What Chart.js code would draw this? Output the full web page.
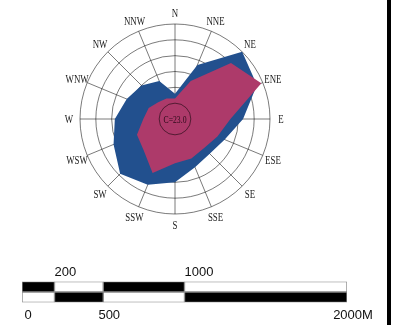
<!DOCTYPE html>
<html>
<head>
<meta charset="utf-8">
<script src="https://cdn.jsdelivr.net/npm/chart.js@4.4.0/dist/chart.umd.min.js"></script>
<style>
  body { margin: 0; background: #fff; width: 395px; height: 325px; overflow: hidden; position: relative; }
  #rose { position: absolute; left: 40px; top: 0; }
  #scaleBar { position: absolute; left: 0; top: 258px; }
  #frame { position: absolute; left: 387px; top: 0; width: 4px; height: 325px; background: #000; }
</style>
</head>
<body>
<canvas id="rose" width="270" height="240"></canvas>
<canvas id="scaleBar" width="395" height="72"></canvas>
<div id="frame"></div>
<script>
// wind rose data (radius in ring units, calm circle = ring 1)
const directions = ['N', 'NNE', 'NE', 'ENE', 'E', 'ESE', 'SE', 'SSE', 'S', 'SSW', 'SW', 'WSW', 'W', 'WNW', 'NW', 'NNW'];
const outerSeries = [1.6, 3.7, 6.0, 5.6, 4.3, 3.4, 3.1, 3.3, 4.0, 4.5, 4.9, 4.2, 3.8, 3.3, 3.0, 2.6];
const innerSeries = [1.3, 2.6, 5.0, 5.9, 3.5, 2.9, 2.6, 2.7, 2.8, 3.7, 2.8, 2.6, 2.0, 1.8, 1.5, 1.4];
const calm = 23.0;
const calmRing = 1;
const ringMax = 6;

// scale bar data (metres)
const scaleStops = [0, 200, 500, 1000, 2000];
const scaleTopTicks = [200, 1000];
const scaleBottomTicks = [0, 500, 2000];

const blue = '#22508e';
const red = '#ad3a6a';
const gridColor = 'rgba(0,0,0,0.52)';

// calm disc in the middle + narrow direction labels
const roseExtras = {
  id: 'roseExtras',
  afterDraw(chart) {
    const r = chart.scales.r;
    const rad = r.getDistanceFromCenterForValue(calmRing);
    const ctx = chart.ctx;
    ctx.save();
    ctx.beginPath();
    ctx.arc(r.xCenter, r.yCenter, rad, 0, Math.PI * 2);
    ctx.fillStyle = red;
    ctx.fill();
    ctx.strokeStyle = gridColor;
    ctx.lineWidth = 1;
    ctx.stroke();
    ctx.textAlign = 'center';
    ctx.textBaseline = 'middle';
    ctx.save();
    ctx.translate(r.xCenter, r.yCenter);
    ctx.scale(0.7, 1);
    ctx.fillStyle = '#2a0a18';
    ctx.font = '11px "Liberation Serif"';
    ctx.fillText('C=' + calm.toFixed(1), 0, 1);
    ctx.restore();
    ctx.fillStyle = '#1a1a1a';
    ctx.font = '13px "Liberation Serif"';
    directions.forEach((d, i) => {
      const p = r.getPointPosition(i, r.drawingArea + 11);
      ctx.save();
      ctx.translate(p.x, p.y + 1);
      ctx.scale(0.68, 1);
      ctx.fillText(d, 0, 0);
      ctx.restore();
    });
    ctx.restore();
  }
};

new Chart(document.getElementById('rose'), {
  type: 'radar',
  data: {
    labels: directions,
    datasets: [
      { data: innerSeries, backgroundColor: red, borderWidth: 0, pointRadius: 0, fill: true },
      { data: outerSeries, backgroundColor: blue, borderWidth: 0, pointRadius: 0, fill: true }
    ]
  },
  options: {
    responsive: false,
    devicePixelRatio: 1,
    animation: false,
    layout: { padding: { left: 40, right: 40, top: 24, bottom: 26 } },
    plugins: { legend: { display: false }, tooltip: { enabled: false } },
    scales: {
      r: {
        z: 1,
        min: 0,
        max: ringMax,
        ticks: { display: false, stepSize: 1 },
        grid: { circular: true, color: gridColor, lineWidth: 1 },
        angleLines: { color: gridColor, lineWidth: 1 },
        pointLabels: { display: false }
      }
    }
  },
  plugins: [roseExtras]
});

// scale bar as floating horizontal bars
const topColors = ['#000', '#fff', '#000', '#fff'];
const bottomColors = ['#fff', '#000', '#fff', '#000'];
const barSets = [];
for (let i = 0; i < scaleStops.length - 1; i++) {
  const seg = [scaleStops[i], scaleStops[i + 1]];
  barSets.push({
    data: [seg, seg],
    backgroundColor: [topColors[i], bottomColors[i]],
    borderColor: '#888',
    borderWidth: 1,
    borderSkipped: false,
    barPercentage: 1,
    categoryPercentage: 1,
    grouped: false
  });
}

new Chart(document.getElementById('scaleBar'), {
  type: 'bar',
  data: { labels: ['upper', 'lower'], datasets: barSets },
  options: {
    indexAxis: 'y',
    responsive: false,
    devicePixelRatio: 1,
    animation: false,
    layout: { padding: { left: 22, right: 48, top: 6, bottom: 2 } },
    plugins: { legend: { display: false }, tooltip: { enabled: false } },
    scales: {
      y: { type: 'category', display: false },
      x: {
        position: 'bottom',
        min: 0, max: 2000,
        grid: { display: false, drawTicks: false, tickLength: 0 },
        border: { display: false },
        afterBuildTicks: axis => { axis.ticks = scaleBottomTicks.map(v => ({ value: v })); },
        ticks: {
          padding: 5,
          labelOffset: 6,
          maxRotation: 0,
          color: '#111',
          font: { family: 'Liberation Sans', size: 13 },
          callback: v => v === 2000 ? v + 'M' : String(v)
        }
      },
      xTop: {
        position: 'top',
        min: 0, max: 2000,
        grid: { display: false, drawTicks: false, tickLength: 0 },
        border: { display: false },
        afterBuildTicks: axis => { axis.ticks = scaleTopTicks.map(v => ({ value: v })); },
        ticks: {
          padding: 1,
          align: 'start',
          maxRotation: 0,
          color: '#111',
          font: { family: 'Liberation Sans', size: 13 },
          callback: v => String(v)
        }
      }
    }
  }
});
</script>
</body>
</html>
